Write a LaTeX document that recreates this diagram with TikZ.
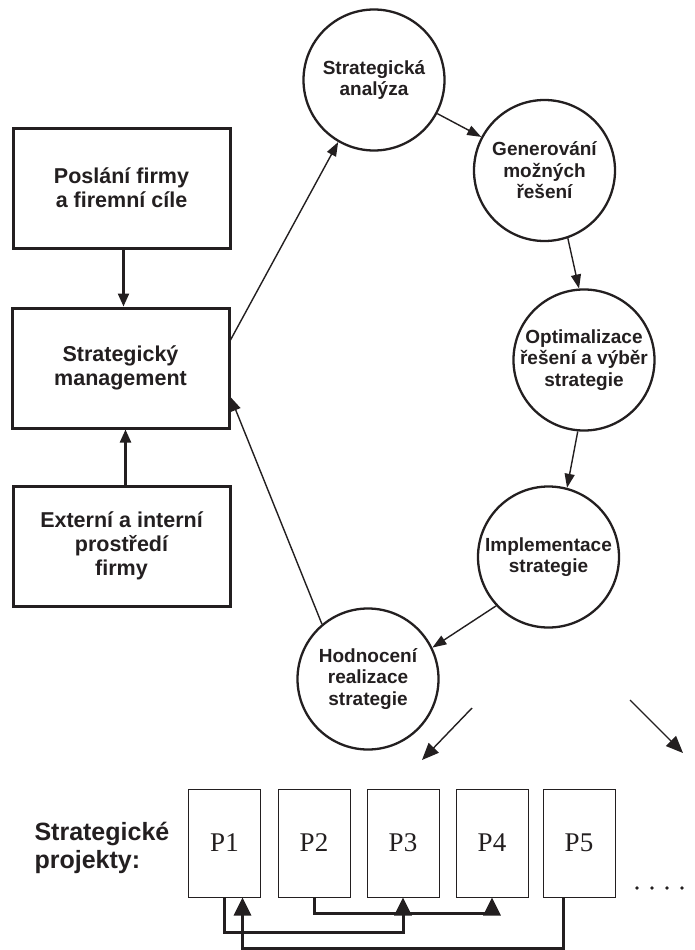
\documentclass[tikz,border=0pt]{standalone}
\usepackage{fontspec}
\setmainfont{Liberation Sans}
\newfontfamily\projfont{Liberation Serif}
\usetikzlibrary{arrows.meta}
\definecolor{ink}{RGB}{35,31,32}
\begin{document}
\begin{tikzpicture}[x=1pt,y=-1pt,
  every node/.style={text=ink},
  goalbox/.style={draw=ink, line width=3pt, minimum width=217pt, minimum height=120pt,
    inner sep=0pt, align=center, font=\bfseries\fontsize{21.5}{24}\selectfont},
  phase/.style={circle, draw=ink, line width=2.3pt, minimum size=141pt, inner sep=0pt,
    align=center, font=\bfseries\fontsize{19}{21.5}\selectfont},
  proj/.style={draw=ink, line width=1pt, minimum width=72pt, minimum height=108pt,
    inner sep=0pt, font=\projfont\fontsize{27}{27}\selectfont},
  boxarrow/.style={draw=ink, line width=2.2pt, -{Triangle[length=13pt,width=11pt]}},
  cyclearrow/.style={draw=ink, line width=1.4pt, -{Triangle[length=14pt,width=10pt]}},
  bigarrow/.style={draw=ink, line width=1.4pt, -{Triangle[length=17pt,width=14pt]}},
  link/.style={draw=ink, line width=3pt},
  linkarrow/.style={link, -{Triangle[length=18pt,width=17pt]}}
]
\useasboundingbox[fill=white] (0,0) rectangle (694,950);

% left column: goals, management, environment
\node[goalbox] (mission) at (121.5,188) {Poslání firmy\\a firemní cíle};
\node[goalbox] (mgmt) at (120.5,368) {Strategický\\management};
\node[goalbox] (env) at (121.5,546) {Externí a interní\\prostředí\\firmy};

\draw[boxarrow] ([xshift=2pt]mission.south) -- ([xshift=2pt]mission.south |- mgmt.north);
\draw[boxarrow] ([xshift=4pt]env.north) -- ([xshift=4pt]env.north |- mgmt.south);

% the strategy cycle
\node[phase] (analysis) at (374,80) {Strategická\\analýza};
\node[phase] (options) at (544.5,170.5) {Generování\\možných\\řešení};
\node[phase] (choice) at (584,360) {Optimalizace\\řešení a výběr\\strategie};
\node[phase] (implement) at (548.5,557) {Implementace\\strategie};
\node[phase] (review) at (368,679) {Hodnocení\\realizace\\strategie};

\draw[cyclearrow] ([yshift=28pt]mgmt.east) -- (analysis.240);
\draw[cyclearrow] (analysis) -- (options);
\draw[cyclearrow] (options.-71) -- (choice.94);
\draw[cyclearrow] (choice.265) -- (implement.75);
\draw[cyclearrow] (implement.223) -- (review.26);
\draw[cyclearrow] (review.130) -- ([yshift=-29pt]mgmt.east);

% arrows down to the projects
\coordinate (fanLstart) at (472,708);
\coordinate (fanLend) at (422,760);
\coordinate (fanRstart) at (630,700);
\coordinate (fanRend) at (683,753);
\draw[bigarrow] (fanLstart) -- (fanLend);
\draw[bigarrow] (fanRstart) -- (fanRend);

% strategic projects
\node[anchor=west, align=left, font=\bfseries\fontsize{25}{28}\selectfont] (projlabel)
  at (31,848) {Strategické\\projekty:};
\foreach \i/\x in {1/224.5,2/314,3/403,4/492,5/579}
  \node[proj] (p\i) at (\x,843) {P\i};

\foreach \x in {637,652,667,682,697}
  \fill[ink] (\x,888) circle (1.8pt);

% links between projects
\coordinate (rowA) at (0,913);
\coordinate (rowB) at (0,932);
\coordinate (rowC) at (0,948);
\draw[linkarrow] (p2.south) -- (p2.south |- rowA) -- (p4.south |- rowA) -- (p4.south);
\draw[linkarrow] (p1.south) -- (p1.south |- rowB) -- (p3.south |- rowB) -- (p3.south);
\draw[linkarrow] ([xshift=-16pt]p5.south) -- ([xshift=-16pt]p5.south |- rowC)
  -- ([xshift=18pt]p1.south |- rowC) -- ([xshift=18pt]p1.south);
\end{tikzpicture}
\end{document}
